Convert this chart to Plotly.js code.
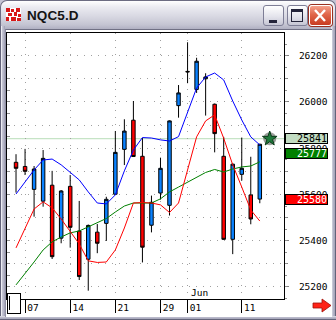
<!DOCTYPE html>
<html><head><meta charset="utf-8">
<script src="https://cdn.plot.ly/plotly-3.0.1.min.js"></script>
<style>
html,body{margin:0;padding:0;background:#fff;}
#win{position:relative;width:336px;height:320px;overflow:hidden;background:#c4c4d4;}
#lf{position:absolute;left:0;top:26px;width:5px;height:294px;background:linear-gradient(to right,#64647a 0,#64647a 1px,#ececf2 1px,#ececf2 2px,#c8c8d6 2px,#b2b2c4 4px,#9a9aae 5px);}
#rf{position:absolute;right:0;top:26px;width:5px;height:294px;background:linear-gradient(to left,#64647a 0,#64647a 1px,#a4a4b8 1px,#b8b8ca 3px,#d8d8e2 4px,#f0f0f4 5px);}
#bf{position:absolute;left:0;bottom:0;width:336px;height:4px;background:linear-gradient(to top,#64647a 0,#64647a 1px,#a4a4b8 1px,#c0c0d0 3px,#e8e8ee 4px);}
#titlebar{position:absolute;left:0;top:0;width:334px;height:28px;border:1px solid #6c6c82;border-bottom:none;border-radius:7px 7px 0 0;background:linear-gradient(to bottom,#ffffff 0%,#ececf2 20%,#d8d8e2 55%,#c4c4d2 85%,#b0b0c2 100%);}
#title{position:absolute;left:27px;top:8px;font:bold 13.5px 'Liberation Sans',Arial,sans-serif;color:#141414;letter-spacing:0.1px;}
#icon{position:absolute;left:6px;top:8px;}
.btn{position:absolute;top:5px;width:19px;height:19px;border:1px solid #7e7e96;border-radius:3px;background:linear-gradient(to bottom,#ffffff,#e4e4ec 55%,#c6c6d4);}
#bclose{left:309px;width:21px;background:linear-gradient(to bottom,#f4a08c,#e0664a 45%,#c83c22);border:1px solid #ffffff;box-shadow:0 0 0 1px #9a3020;}
#content{position:absolute;left:5px;top:29px;width:326px;height:287px;background:#ffffff;border-top:1px solid #707084;border-left:1px solid #9090a4;}
#chart{position:absolute;left:0;top:0;width:336px;height:320px;}
#scroll{position:absolute;left:7px;top:293px;width:12px;height:19px;border:1px solid #000;background:#fff;}
#scroll div{position:absolute;left:1px;top:2px;width:1px;height:14px;background:#000;}
#arrow{position:absolute;left:312px;top:298px;}
</style></head>
<body>
<div id="win">
  <div id="titlebar"></div>
  <div id="lf"></div><div id="rf"></div><div id="bf"></div>
  <svg id="icon" width="15" height="13">
    <rect x="0" y="0" width="15" height="13" fill="#ffffff"/>
    <rect x="0" y="0" width="4" height="4" fill="#d81818"/><rect x="5" y="1" width="3" height="3" fill="#d81818"/>
    <rect x="10" y="0" width="4" height="4" fill="#d81818"/><rect x="2" y="5" width="4" height="3" fill="#d81818"/>
    <rect x="8" y="4" width="3" height="4" fill="#d81818"/><rect x="12" y="6" width="3" height="3" fill="#d81818"/>
    <rect x="0" y="9" width="3" height="4" fill="#d81818"/><rect x="5" y="9" width="5" height="4" fill="#d81818"/>
    <rect x="11" y="10" width="4" height="3" fill="#d81818"/>
  </svg>
  <div id="title">NQC5.D</div>
  <div class="btn" style="left:263px"><div style="position:absolute;left:5px;top:14px;width:8px;height:3px;background:#24243a"></div></div>
  <div class="btn" style="left:287px"><div style="position:absolute;left:3px;top:3px;width:10px;height:9px;border:1px solid #24243a;border-top:3px solid #24243a"></div></div>
  <div class="btn" id="bclose"><svg width="21" height="19" style="position:absolute;left:0;top:0"><path d="M5 4 L15 15 M15 4 L5 15" stroke="#ffffff" stroke-width="2.4"/></svg></div>
  <div id="content"></div>
  <div id="chart"></div>
  <div id="scroll"><div></div></div>
  <svg id="arrow" width="22" height="16"><path d="M1 5 L10 5 L10 1 L19 7.5 L10 14 L10 10 L1 10 Z" fill="#ff2418" stroke="#a01008" stroke-width="0.8"/></svg>
</div>
<script>
// OHLC values (daily bars)
const open  = [25739,25721,25622,25571,25640,25411,25635,25442,25320,25437,25475,25601,25795,25921,25765,25467,25606,25553,25984,26132,26054,26100,25990,25765,25406,25687,25598,25580];
const high  = [25774,25797,25723,25792,25702,25619,25684,25572,25470,25472,25590,25874,25925,26004,25844,25595,25759,25920,26073,26258,26191,26124,25993,25849,25733,25846,25763,25819];
const low   = [25608,25684,25504,25547,25321,25389,25370,25230,25184,25346,25399,25598,25727,25762,25306,25436,25578,25509,25932,26081,26039,25941,25782,25404,25342,25660,25471,25562];
const close = [25713,25700,25710,25756,25331,25615,25458,25245,25466,25389,25579,25782,25874,25764,25372,25566,25713,25918,26039,26130,26176,26108,25863,25406,25731,25713,25494,25817];
// moving averages
const blueMA  = [25602,25654,25706,25749,25753,25728,25697,25663,25611,25563,25559,25598,25702,25792,25846,25844,25836,25831,25850,25957,26060,26108,26125,26095,26004,25922,25849,25814];
const redMA   = [25369,25455,25537,25568,25542,25494,25438,25386,25313,25306,25308,25360,25455,25563,25565,25563,25555,25522,25563,25701,25849,25918,25944,25843,25728,25632,25533,25485];
const greenMA = [25209,25256,25308,25360,25395,25416,25434,25442,25460,25477,25496,25524,25550,25563,25563,25563,25581,25611,25632,25654,25676,25695,25708,25697,25710,25719,25723,25741];
// x-axis ticks (bar number -> day label)
const tickBars   = [1,6,11,16,19,25];
const tickLabels = ['07','14','21','29','01','11'];
const monthLabel = 'Jun';
const monthBar   = 19;
// price tags on the right
const tagValues = [25841,25777,25580];
const tagFill   = ['#c2dcc2','#008000','#ff0000'];
const tagText   = ['#000000','#ffffff','#ffffff'];
// alert level line and marker
const alertLevel = 25841;
const alertBar = 28.1;

const bars = open.map((_, i) => i);
const mono = 'DejaVu Sans Mono, Liberation Mono, monospace';

const traces = [
  {type:'scatter', mode:'lines', x:bars, y:greenMA, line:{color:'#008000', width:1}, hoverinfo:'skip'},
  {type:'scatter', mode:'lines', x:bars, y:redMA, line:{color:'#ff0000', width:1}, hoverinfo:'skip'},
  {type:'scatter', mode:'lines', x:bars, y:blueMA, line:{color:'#0000ff', width:1}, hoverinfo:'skip'},
  {type:'candlestick', x:bars, open:open, high:high, low:low, close:close, whiskerwidth:0,
   increasing:{line:{color:'#000000', width:1}, fillcolor:'#0a82ff'},
   decreasing:{line:{color:'#000000', width:1}, fillcolor:'#ff0000'}, hoverinfo:'skip'},
  {type:'scatter', mode:'markers', x:[alertBar], y:[alertLevel], marker:{symbol:'circle', size:13, color:'rgba(10,20,10,0.4)'}, hoverinfo:'skip'},
  {type:'scatter', mode:'markers', x:[alertBar], y:[alertLevel], marker:{symbol:'star', size:11, color:'#1f7a3c', line:{color:'#0a3a18', width:1}}, hoverinfo:'skip'},
  {type:'scatter', x:[null], y:[null], yaxis:'y2', hoverinfo:'skip'},
  {type:'scatter', x:[null], y:[null], yaxis:'y3', hoverinfo:'skip'}
];

const yRange = [25148, 26298];
const grid = {gridcolor:'#a0a0a0', griddash:'1px,6px', gridwidth:1};

const annotations = tagValues.map((v, i) => ({
  xref:'paper', x:1, xanchor:'left', xshift:1, yref:'y', y:v, yanchor:'middle',
  text:String(v), showarrow:false, align:'right', width:41, height:9,
  bgcolor:tagFill[i], bordercolor:'#000000', borderwidth:1, borderpad:0,
  font:{family:mono, size:10, color:tagText[i]}
}));
annotations.push({xref:'x', x:monthBar, xanchor:'left', xshift:1, yref:'paper', y:0, yanchor:'bottom', yshift:-1,
  text:monthLabel, showarrow:false, font:{family:mono, size:9.5, color:'#000'}});

const layout = {
  width:336, height:320,
  margin:{l:7, r:52, t:33, b:21, pad:0},
  paper_bgcolor:'rgba(0,0,0,0)', plot_bgcolor:'#ffffff',
  showlegend:false, boxgap:0.45, hovermode:false,
  xaxis:Object.assign({range:[-1.0, 29.68], tickmode:'array', tickvals:tickBars, ticktext:tickLabels,
    ticks:'outside', ticklen:13, tickcolor:'#000', tickwidth:1,
    showline:true, linecolor:'#000', linewidth:1, mirror:true, showgrid:true, zeroline:false,
    tickfont:{family:mono, size:9.5, color:'#000'}, ticklabelshift:8, ticklabelstandoff:-13,
    rangeslider:{visible:false}, fixedrange:true}, grid),
  yaxis:Object.assign({side:'right', range:yRange, tick0:25200, dtick:200, tickformat:'d',
    ticks:'outside', ticklen:4, tickcolor:'#808080', showline:true, mirror:true, linecolor:'#000', linewidth:1,
    showgrid:true, zeroline:false, tickfont:{family:mono, size:9.5, color:'#000'}, ticklabelstandoff:8,
    minor:Object.assign({tick0:25200, dtick:100, ticklen:3, tickcolor:'#808080', showgrid:true}, grid), fixedrange:true}, grid),
  yaxis2:{overlaying:'y', side:'right', range:yRange, tick0:25200, dtick:50, ticks:'outside', ticklen:2,
    tickcolor:'#909090', showticklabels:false, showgrid:false, showline:false, zeroline:false, fixedrange:true},
  yaxis3:{overlaying:'y', side:'left', range:yRange, tick0:25200, dtick:50, ticks:'inside', ticklen:3,
    tickcolor:'#909090', showticklabels:false, showgrid:false, showline:false, zeroline:false, fixedrange:true},
  shapes:[{type:'line', xref:'paper', x0:0, x1:1, yref:'y', y0:alertLevel, y1:alertLevel,
    line:{color:'#b8deb8', width:1}, layer:'below'}],
  annotations:annotations
};

Plotly.newPlot('chart', traces, layout, {staticPlot:true, displayModeBar:false});
</script>
</body></html>
